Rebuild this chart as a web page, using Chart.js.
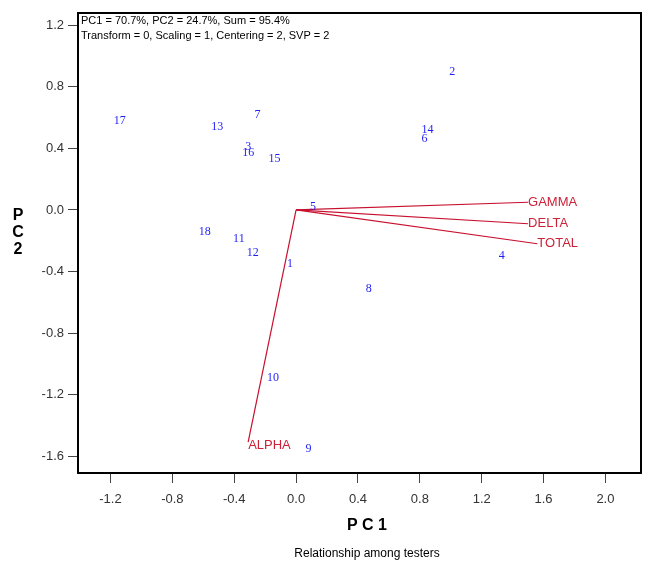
<!DOCTYPE html>
<html>
<head>
<meta charset="utf-8">
<script src="https://cdn.jsdelivr.net/npm/chart.js@4/dist/chart.umd.min.js"></script>
<style>
  body { margin: 0; background: #fff; }
  canvas { display: block; }
</style>
</head>
<body>
<canvas id="biplot" width="649" height="561"></canvas>
<script>
// testers (scores) and traits (loading vectors)
var testerLabels = ["1","2","3","4","5","6","7","8","9","10","11","12","13","14","15","16","17","18"];
var pc1Scores = [-0.04, 1.01, -0.31, 1.33, 0.11, 0.83, -0.25, 0.47, 0.08, -0.15, -0.37, -0.28, -0.51, 0.85, -0.14, -0.31, -1.14, -0.59];
var pc2Scores = [-0.35, 0.90, 0.41, -0.30, 0.02, 0.46, 0.62, -0.51, -1.55, -1.09, -0.19, -0.28, 0.54, 0.52, 0.33, 0.37, 0.58, -0.14];

var traitNames = ["GAMMA", "DELTA", "TOTAL", "ALPHA"];
var traitPC1 = [1.50, 1.50, 1.56, -0.31];
var traitPC2 = [0.05, -0.09, -0.22, -1.51];

var xTicks = [-1.2, -0.8, -0.4, 0.0, 0.4, 0.8, 1.2, 1.6, 2.0];
var yTicks = [-1.6, -1.2, -0.8, -0.4, 0.0, 0.4, 0.8, 1.2];

var headerLines = ["PC1 = 70.7%, PC2 = 24.7%, Sum = 95.4%",
                   "Transform = 0, Scaling = 1, Centering = 2, SVP = 2"];

var sans = 'Arial, "Liberation Sans", sans-serif';
var serif = '"Times New Roman", "Liberation Serif", serif';
var traitColor = "#cc2238";
var lineColor = "#c8102e";
var pointColor = "#1f1ff5";

var datasets = [];
datasets.push({
  type: "scatter",
  label: "testers",
  data: pc1Scores.map(function(x, i) { return { x: x, y: pc2Scores[i] }; }),
  pointRadius: 0,
  pointHoverRadius: 0
});
traitNames.forEach(function(name, i) {
  datasets.push({
    type: "line",
    label: name,
    data: [{ x: 0, y: 0 }, { x: traitPC1[i], y: traitPC2[i] }],
    borderColor: lineColor,
    borderWidth: 1.2,
    pointRadius: 0,
    fill: false
  });
});

var biplotText = {
  id: "biplotText",
  afterDatasetsDraw: function(chart) {
    var ctx = chart.ctx;
    var area = chart.chartArea;
    ctx.save();

    // tester numbers
    var pts = chart.getDatasetMeta(0).data;
    ctx.fillStyle = pointColor;
    ctx.font = "12px " + serif;
    ctx.textAlign = "center";
    ctx.textBaseline = "middle";
    pts.forEach(function(p, i) {
      ctx.fillText(testerLabels[i], p.x, p.y);
    });

    // trait names at the tips of the vectors
    ctx.fillStyle = traitColor;
    ctx.font = "13px " + sans;
    ctx.textAlign = "left";
    traitNames.forEach(function(name, i) {
      var tip = chart.getDatasetMeta(i + 1).data[1];
      ctx.fillText(name, tip.x, tip.y + (i === 3 ? 3 : 0));
    });

    // header text
    ctx.fillStyle = "#000";
    ctx.font = "11px " + sans;
    ctx.textAlign = "left";
    ctx.fillText(headerLines[0], area.left + 3, area.top + 8);
    ctx.fillText(headerLines[1], area.left + 3, area.top + 23);

    // frame
    ctx.strokeStyle = "#000";
    ctx.lineWidth = 2;
    ctx.strokeRect(area.left, area.top, area.right - area.left, area.bottom - area.top);

    // axis titles
    ctx.font = "bold 16px " + sans;
    ctx.textAlign = "center";
    ctx.fillText("P C 1", 367, 526);
    ctx.fillText("P", 18, 216);
    ctx.fillText("C", 18, 233);
    ctx.fillText("2", 18, 250);
    ctx.font = "12px " + sans;
    ctx.fillText("Relationship among testers", 367, 554);
    ctx.restore();
  }
};

function axisOptions(min, max, values, fit) {
  return {
    type: "linear",
    min: min,
    max: max,
    afterBuildTicks: function(scale) {
      scale.ticks = values.map(function(v) { return { value: v }; });
    },
    afterFit: fit,
    border: { display: false },
    grid: { drawOnChartArea: false, tickLength: 10, color: "#444", lineWidth: 1 },
    ticks: {
      color: "#333",
      font: { family: sans, size: 13 },
      callback: function(v) { return Number(v).toFixed(1); }
    }
  };
}

var xAxis = axisOptions(-1.41, 2.23, xTicks, function(s) { s.height = 88; });
xAxis.ticks.padding = 9;
var yAxis = axisOptions(-1.71, 1.28, yTicks, function(s) { s.width = 78; });
yAxis.ticks.padding = 4;

new Chart(document.getElementById("biplot"), {
  type: "scatter",
  data: { datasets: datasets },
  options: {
    responsive: false,
    animation: false,
    layout: { padding: { left: 0, top: 13, right: 8, bottom: 0 } },
    plugins: { legend: { display: false }, tooltip: { enabled: false } },
    scales: { x: xAxis, y: yAxis }
  },
  plugins: [biplotText]
});
</script>
</body>
</html>
